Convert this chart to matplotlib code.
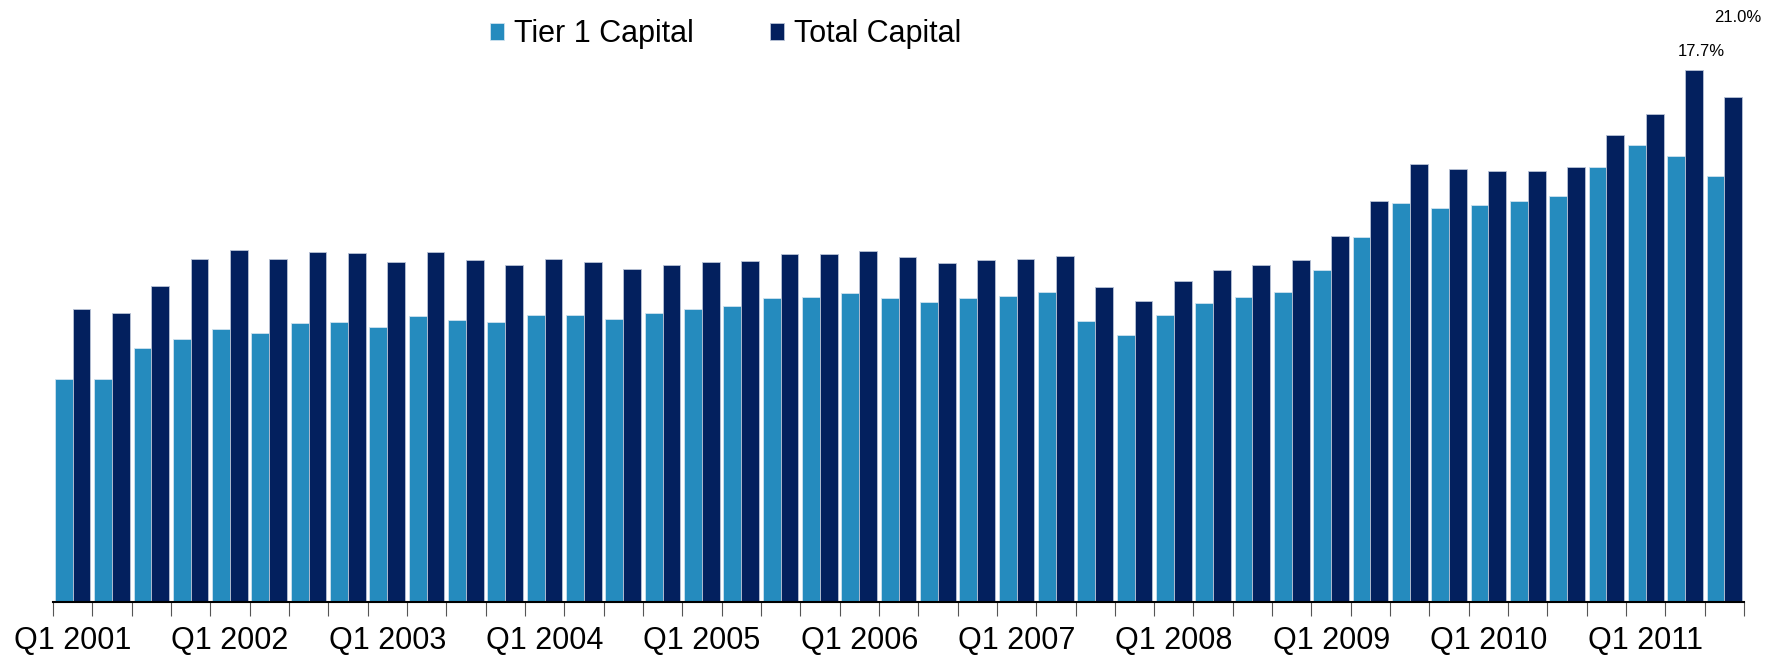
import matplotlib
matplotlib.use("Agg")

import matplotlib.pyplot as plt
import numpy as np

# =====================================================
# Data - capital ratios (%) by quarter, Q1 2001 .. Q3 2011
# =====================================================

years = list(range(2001, 2012))

tier1 = [8.82, 8.82, 10.04, 10.38, 10.79, 10.61, 11.01, 11.06, 10.85, 11.30,
         11.13, 11.06, 11.35, 11.32, 11.16, 11.40, 11.57, 11.68, 11.99, 12.03,
         12.22, 12.02, 11.84, 12.01, 12.07, 12.24, 11.10, 10.55, 11.35, 11.81,
         12.06, 12.24, 13.10, 14.43, 15.76, 15.57, 15.67, 15.86, 16.05, 17.19,
         18.05, 17.6, 16.81]

total = [11.58, 11.40, 12.49, 13.56, 13.90, 13.55, 13.82, 13.78, 13.43, 13.82,
         13.49, 13.31, 13.53, 13.42, 13.14, 13.32, 13.43, 13.46, 13.74, 13.73,
         13.86, 13.61, 13.38, 13.52, 13.53, 13.67, 12.44, 11.88, 12.68, 13.11,
         13.30, 13.49, 14.44, 15.86, 17.29, 17.10, 17.01, 17.01, 17.19, 18.43,
         19.29, 21.0, 19.95]

tick_labels = ["Q1 %d" % y for y in years]

light_blue = "#258BBE"
navy = "#03205E"

# =====================================================
# Figure
# =====================================================

plt.rcParams["font.family"] = ["Liberation Sans", "DejaVu Sans"]

figure = plt.figure(figsize=(17.91, 6.55), dpi=100)
axes = figure.add_axes([0.0296, 0.0809, 0.9442, 0.9191])

n = len(tier1)
x = np.arange(n)
w = 0.453
off = 0.047

axes.bar(x + off, tier1, width=w, align="edge", color=light_blue,
         edgecolor="#cfe3ef", linewidth=0.6, label="Tier 1 Capital")
axes.bar(x + off + w, total, width=w, align="edge", color=navy,
         edgecolor="#b9c3d6", linewidth=0.6, label="Total Capital")

axes.set_xlim(0, n)
axes.set_ylim(0, 23.78)

# group boundary ticks (minor) and year labels (major)
axes.set_xticks(np.arange(0, n + 1), minor=True)
axes.set_xticks(np.arange(0, n, 4) + 0.5)
axes.set_xticklabels(tick_labels, fontsize=22)
axes.tick_params(axis="x", which="major", length=0, pad=17)
axes.tick_params(axis="x", which="minor", length=10, width=0.8,
                 color="#555555")
axes.set_yticks([])

for side in ["top", "right", "left"]:
    axes.spines[side].set_visible(False)
axes.spines["bottom"].set_linewidth(1.5)

# value labels
axes.text(41.9, 21.76, "%.1f%%" % 17.7, fontsize=12, ha="center",
          va="center", clip_on=False)
axes.text(42.85, 23.1, "%.1f%%" % total[41], fontsize=12, ha="center",
          va="center", clip_on=False)

figure.legend(loc="center", bbox_to_anchor=(0.405, 0.948), ncol=2,
              frameon=False, fontsize=22, handlelength=0.45,
              handleheight=0.5, handletextpad=0.33, columnspacing=2.5,
              borderpad=0)

figure.savefig("out.png", dpi=100)
